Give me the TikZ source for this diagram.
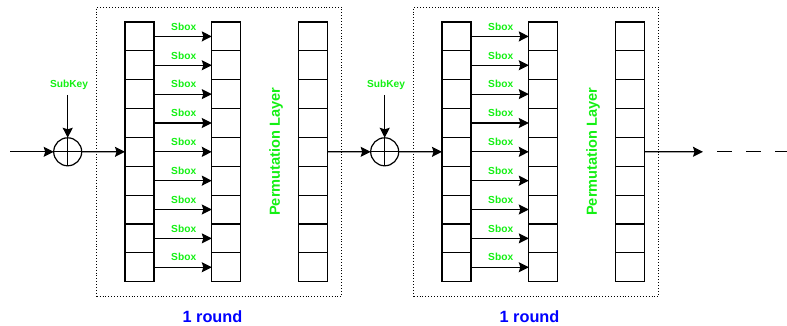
\documentclass[tikz,border=0pt]{standalone}
\usepackage{fontspec}
\setmainfont{Liberation Sans}
\usetikzlibrary{arrows.meta}
\definecolor{lgreen}{RGB}{20,240,20}
\definecolor{rblue}{RGB}{0,0,255}
\begin{document}
\begin{tikzpicture}[x=1pt,y=-1pt,
  cell/.style={draw,line width=1.2pt,minimum width=29pt,minimum height=28.85pt,inner sep=0pt,outer sep=0pt},
  arr/.style={-{Stealth[length=10pt,width=10pt,inset=1.5pt]},line width=1.2pt},
  lbl/.style={text=lgreen,font=\bfseries\fontsize{10.2}{11}\selectfont,inner sep=0pt},
  perm/.style={text=lgreen,font=\bfseries\fontsize{14.6}{15}\selectfont,inner sep=0pt,rotate=90},
  rnd/.style={text=rblue,font=\bfseries\fontsize{16.3}{17}\selectfont,inner sep=0pt},
  xor/.style={draw,circle,line width=1.2pt,minimum size=28pt,inner sep=0pt,outer sep=0pt},
  roundbox/.style={draw,dotted,line width=0.9pt,inner sep=0pt,minimum width=245pt,minimum height=288.7pt},
]
\useasboundingbox (0,0) rectangle (787,326);
\foreach \r/\dx in {1/0,2/317}{
  \node[roundbox] (box\r) at (219.2+\dx,151.65) {};
  \foreach \i in {1,...,9}{
    \node[cell] (c\r-1-\i) at (139.5+\dx,7.575+28.85*\i) {};
    \node[cell] (c\r-2-\i) at (226.3+\dx,7.575+28.85*\i) {};
    \node[cell] (c\r-3-\i) at (313+\dx,7.575+28.85*\i) {};
    \draw[arr] (c\r-1-\i.east) -- (c\r-2-\i.west);
    \node[lbl] (sb\r-\i) at (183.7+\dx,-2.3+28.85*\i) {Sbox};
  }
  \node[perm] (perm\r) at (276+\dx,151.7) {Permutation Layer};
  \node[rnd] (rnd\r) at (212.5+\dx,316.7) {1 round};
  \node[xor] (x\r) at (67.7+\dx,151.8) {};
  \draw[line width=1.2pt] (x\r.north) -- (x\r.south) (x\r.west) -- (x\r.east);
  \node[lbl] (sk\r) at (69+\dx,85) {SubKey};
  \coordinate (skt\r) at (67.7+\dx,95);
  \draw[arr] (skt\r) -- (x\r.north);
  \draw[arr] (x\r.east) -- (c\r-1-5.west);
}
\coordinate (in) at (10,151.8);
\coordinate (out) at (703,151.8);
\coordinate (d1) at (717,151.8);
\coordinate (d2) at (787,151.8);
\draw[arr] (in) -- (x1.west);
\draw[arr] (c1-3-5.east) -- (x2.west);
\draw[arr] (c2-3-5.east) -- (out);
\draw[line width=1.2pt,dash pattern=on 14.5pt off 14.5pt] (d1) -- (d2);
\end{tikzpicture}
\end{document}
